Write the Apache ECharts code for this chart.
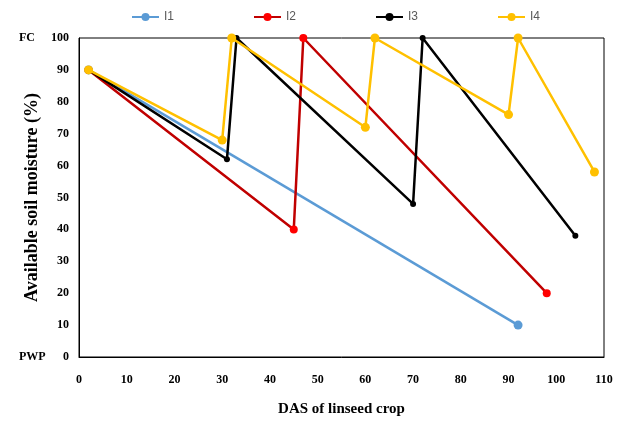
<!DOCTYPE html>
<html>
<head>
<meta charset="utf-8">
<script src="https://cdn.jsdelivr.net/npm/echarts@6/dist/echarts.min.js"></script>
<style>html,body{margin:0;padding:0;background:#fff}#c{width:621px;height:421px}</style>
</head>
<body>
<div id="c"></div>
<script>
var seriesNames = ['I1', 'I2', 'I3', 'I4'];
var i1Days = [2, 92];
var i1Moist = [90, 10];
var i2Days = [2, 45, 47, 98];
var i2Moist = [90, 40, 100, 20];
var i3Days = [2, 31, 33, 70, 72, 104];
var i3Moist = [90, 62, 100, 48, 100, 38];
var i4Days = [2, 30, 32, 60, 62, 90, 92, 108];
var i4Moist = [90, 68, 100, 72, 100, 76, 100, 58];
var xTicks = [0, 10, 20, 30, 40, 50, 60, 70, 80, 90, 100, 110];
var yTicks = [0, 10, 20, 30, 40, 50, 60, 70, 80, 90, 100];
var yMarks = {0: 'PWP', 100: 'FC'};

function pairs(xs, ys) { return xs.map(function (x, i) { return [x, ys[i]]; }); }

var serif = 'Liberation Serif, Times New Roman, serif';
var chart = echarts.init(document.getElementById('c'), null, {renderer: 'canvas'});
var lineColors = ['#5B9BD5', '#C00000', '#000000', '#FFC000'];
var markColors = ['#5B9BD5', '#FF0000', '#000000', '#FFC000'];
var markSizes = [9, 8, 6, 9];
var all = [pairs(i1Days, i1Moist), pairs(i2Days, i2Moist), pairs(i3Days, i3Moist), pairs(i4Days, i4Moist)];

chart.setOption({
  animation: false,
  legend: {
    top: 6, left: 126,
    itemWidth: 27, itemHeight: 10, itemGap: 79,
    textStyle: {fontFamily: 'Liberation Sans Narrow, Arial Narrow, sans-serif', fontSize: 12, color: '#595959'},
    data: seriesNames
  },
  grid: {left: 79, right: 17, top: 38, bottom: 64, containLabel: false, outerBoundsMode: 'none',
    show: true, borderColor: '#000', borderWidth: 1},
  xAxis: {
    type: 'value', min: 0, max: 110, interval: 10,
    name: 'DAS of linseed crop', nameLocation: 'middle', nameGap: 45, nameMoveOverlap: false,
    nameTextStyle: {fontFamily: serif, fontWeight: 'bold', fontSize: 15, color: '#000'},
    axisLine: {lineStyle: {color: '#000'}}, axisTick: {show: false}, splitLine: {show: false},
    axisLabel: {margin: 17, fontFamily: serif, fontWeight: 'bold', fontSize: 12, color: '#000',
      formatter: function (v) { return xTicks.indexOf(v) >= 0 ? String(v) : ''; }}
  },
  yAxis: {
    type: 'value', min: 0, max: 100, interval: 10,
    name: 'Available soil moisture (%)', nameLocation: 'middle', nameGap: 38, nameMoveOverlap: false,
    nameTextStyle: {fontFamily: serif, fontWeight: 'bold', fontSize: 18, color: '#000'},
    axisLine: {show: true, lineStyle: {color: '#000'}}, axisTick: {show: false}, splitLine: {show: false},
    axisLabel: {margin: 10, fontFamily: serif, fontWeight: 'bold', fontSize: 12, color: '#000',
      formatter: function (v) {
        if (yTicks.indexOf(v) < 0) return '';
        return '{a|' + (yMarks[v] || '') + '}{v|' + v + '}';
      },
      rich: {
        a: {width: 30, align: 'left', fontFamily: serif, fontWeight: 'bold', fontSize: 12, color: '#000'},
        v: {width: 20, align: 'right', fontFamily: serif, fontWeight: 'bold', fontSize: 12, color: '#000'}
      }
    }
  },
  series: all.map(function (d, i) {
    return {
      name: seriesNames[i], type: 'line', data: d,
      symbol: 'circle', symbolSize: markSizes[i],
      lineStyle: {color: lineColors[i], width: 2.5},
      itemStyle: {color: markColors[i]},
      z: i === 3 ? 3 : 2
    };
  })
});
</script>
</body>
</html>
